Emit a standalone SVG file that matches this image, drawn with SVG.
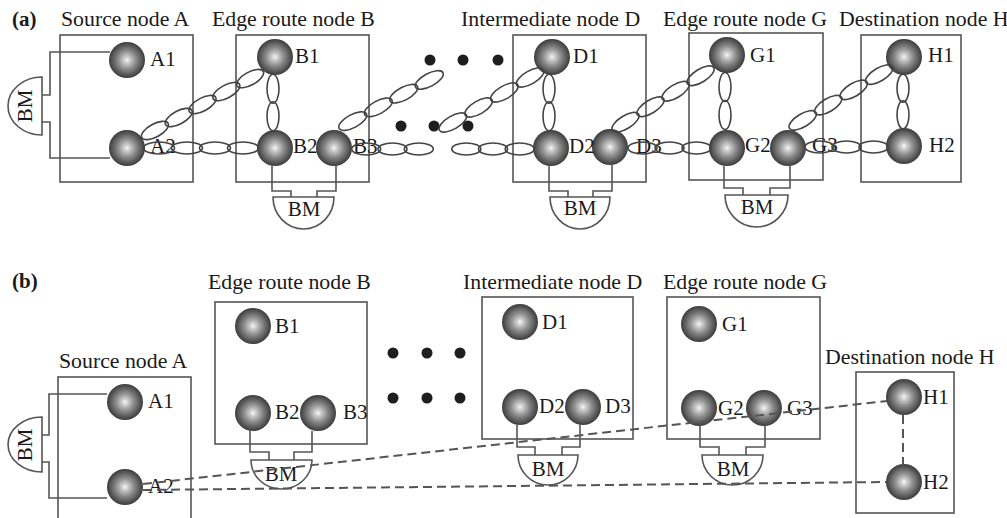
<svg xmlns="http://www.w3.org/2000/svg" width="1007" height="518" viewBox="0 0 1007 518">
<defs>
<radialGradient id="sph" cx="50%" cy="50%" r="50%">
<stop offset="0" stop-color="#f8f8f8"/>
<stop offset="0.15" stop-color="#d2d2d2"/>
<stop offset="0.5" stop-color="#8c8c8c"/>
<stop offset="0.85" stop-color="#535353"/>
<stop offset="1" stop-color="#3c3c3c"/>
</radialGradient>
<style>
text{font-family:"Liberation Serif","Times New Roman",serif;font-size:21px;fill:#1a1a1a}
.t{font-size:21.8px}
.bold{font-weight:bold}
.box{fill:none;stroke:#555;stroke-width:1.6}
.wire{fill:none;stroke:#555;stroke-width:1.6}
.bm{fill:none;stroke:#555;stroke-width:1.6}
.s{fill:url(#sph)}
.dot{fill:#1e1e1e}
.ch ellipse{fill:none;stroke:#444;stroke-width:1.6}
.dash{fill:none;stroke:#555;stroke-width:2;stroke-dasharray:9 5}
.mid{text-anchor:middle}
</style>
</defs>
<rect width="1007" height="518" fill="#fff"/>

<!-- Panel (a) -->
<text class="bold" x="12" y="26">(a)</text>

<g id="a-nodeA">
<text class="t" x="61" y="26">Source node A</text>
<rect class="box" x="60" y="35" width="133" height="147"/>
<path class="wire" d="M42,95 H50 V52 H110 M42,122 H50 V158 H110"/>
<path class="bm" d="M42,77 A34,29 0 0 0 42,135 Z"/>
<text class="mid" transform="translate(32,106) rotate(-90)">BM</text>
<circle class="s" cx="127" cy="60" r="18"/>
<circle class="s" cx="127" cy="148" r="18"/>
<text x="150" y="66">A1</text>
<text x="150" y="153">A2</text>
</g>

<g id="a-nodeB">
<text class="t" x="212" y="26">Edge route node B</text>
<rect class="box" x="236" y="35" width="133" height="147"/>
<path class="wire" d="M272,166 V191 H291 V197 M336,166 V191 H317 V197"/>
<path class="bm" d="M273,197 H334 A30.5,32 0 0 1 273,197 Z"/>
<text class="mid" x="304" y="216">BM</text>
<circle class="s" cx="275" cy="57" r="18"/>
<circle class="s" cx="275" cy="148" r="18"/>
<circle class="s" cx="334" cy="148" r="18"/>
<text x="295" y="63">B1</text>
<text x="293" y="153">B2</text>
<text x="353" y="153">B3</text>
</g>

<g id="a-dots">
<circle class="dot" cx="430" cy="60" r="5.5"/>
<circle class="dot" cx="463" cy="60" r="5.5"/>
<circle class="dot" cx="498" cy="60" r="5.5"/>
<circle class="dot" cx="401" cy="126" r="5.5"/>
<circle class="dot" cx="434" cy="126" r="5.5"/>
<circle class="dot" cx="468" cy="126" r="5.5"/>
</g>

<g id="a-nodeD">
<text class="t" x="461" y="26">Intermediate node D</text>
<rect class="box" x="513" y="35" width="133" height="147"/>
<path class="wire" d="M549,166 V191 H568 V197 M612,165 V191 H593 V197"/>
<path class="bm" d="M550,197 H610 A30,32 0 0 1 550,197 Z"/>
<text class="mid" x="580" y="215">BM</text>
<circle class="s" cx="552" cy="57" r="18"/>
<circle class="s" cx="551" cy="148" r="18"/>
<circle class="s" cx="610" cy="147" r="18"/>
<text x="573" y="63">D1</text>
<text x="569" y="153">D2</text>
<text x="636" y="153">D3</text>
</g>

<g id="a-nodeG">
<text class="t" x="663" y="26">Edge route node G</text>
<rect class="box" x="689" y="33" width="134" height="147"/>
<path class="wire" d="M724,166 V188 H743 V195 M790,166 V188 H770 V195"/>
<path class="bm" d="M725,195 H788 A31.5,32 0 0 1 725,195 Z"/>
<text class="mid" x="757" y="214">BM</text>
<circle class="s" cx="727" cy="55" r="18"/>
<circle class="s" cx="727" cy="148" r="18"/>
<circle class="s" cx="788" cy="148" r="18"/>
<text x="750" y="62">G1</text>
<text x="745" y="152">G2</text>
<text x="812" y="152">G3</text>
</g>

<g id="a-nodeH">
<text class="t" x="839" y="26">Destination node H</text>
<rect class="box" x="861" y="35" width="100" height="147"/>
<circle class="s" cx="904" cy="57" r="18"/>
<circle class="s" cx="904" cy="146" r="18"/>
<text x="928" y="62">H1</text>
<text x="929" y="152">H2</text>
</g>

<!-- Panel (b) -->
<text class="bold" x="12" y="288">(b)</text>

<g id="b-nodeA">
<text class="t" x="59" y="368">Source node A</text>
<rect class="box" x="58" y="377" width="133" height="160"/>
<path class="wire" d="M42,435 H49 V394 H107 M42,462 H49 V498 H107"/>
<path class="bm" d="M42,417 A34,27.5 0 0 0 42,472 Z"/>
<text class="mid" transform="translate(32,445) rotate(-90)">BM</text>
<circle class="s" cx="125" cy="402" r="18"/>
<circle class="s" cx="125" cy="487" r="18"/>
<text x="148" y="408">A1</text>
<text x="148" y="493">A2</text>
</g>

<g id="b-nodeB">
<text class="t" x="208" y="289">Edge route node B</text>
<rect class="box" x="215" y="302" width="152" height="142"/>
<path class="wire" d="M250,431 V452 H269 V460 M312,431 V452 H294 V460"/>
<path class="bm" d="M251,460 H312 A30.5,29 0 0 1 251,460 Z"/>
<text class="mid" x="281" y="481">BM</text>
<circle class="s" cx="253" cy="326" r="18"/>
<circle class="s" cx="253" cy="413" r="18"/>
<circle class="s" cx="318" cy="413" r="18"/>
<text x="275" y="333">B1</text>
<text x="275" y="419">B2</text>
<text x="343" y="419">B3</text>
</g>

<g id="b-dots">
<circle class="dot" cx="393" cy="353" r="5.5"/>
<circle class="dot" cx="427" cy="353" r="5.5"/>
<circle class="dot" cx="460" cy="353" r="5.5"/>
<circle class="dot" cx="393" cy="398" r="5.5"/>
<circle class="dot" cx="427" cy="398" r="5.5"/>
<circle class="dot" cx="460" cy="398" r="5.5"/>
</g>

<g id="b-nodeD">
<text class="t" x="463" y="289">Intermediate node D</text>
<rect class="box" x="482" y="297" width="151" height="142"/>
<path class="wire" d="M517,425 V447 H535 V455 M580,425 V447 H562 V455"/>
<path class="bm" d="M518,455 H578 A30,30 0 0 1 518,455 Z"/>
<text class="mid" x="548" y="476">BM</text>
<circle class="s" cx="520" cy="322" r="18"/>
<circle class="s" cx="520" cy="407" r="18"/>
<circle class="s" cx="583" cy="407" r="18"/>
<text x="542" y="329">D1</text>
<text x="539" y="413">D2</text>
<text x="605" y="413">D3</text>
</g>

<g id="b-nodeG">
<text class="t" x="663" y="289">Edge route node G</text>
<rect class="box" x="667" y="297" width="153" height="142"/>
<path class="wire" d="M700,426 V447 H719 V455 M765,426 V447 H746 V455"/>
<path class="bm" d="M702,455 H763 A30.5,30 0 0 1 702,455 Z"/>
<text class="mid" x="733" y="476">BM</text>
<circle class="s" cx="699" cy="324" r="18"/>
<circle class="s" cx="699" cy="408" r="18"/>
<circle class="s" cx="764" cy="408" r="18"/>
<text x="722" y="331">G1</text>
<text x="718" y="415">G2</text>
<text x="787" y="415">G3</text>
</g>

<g id="b-nodeH">
<text class="t" x="825" y="364">Destination node H</text>
<rect class="box" x="856" y="372" width="98" height="141"/>
<circle class="s" cx="904" cy="397" r="18"/>
<circle class="s" cx="904" cy="482" r="18"/>
<text x="923" y="404">H1</text>
<text x="923" y="489">H2</text>
</g>

<g id="connectors">
<g class="ch">
<g transform="translate(143,137) rotate(-28.6)">
<ellipse cx="13.6" cy="0" rx="15" ry="6.5"/><ellipse cx="40.7" cy="0" rx="15" ry="6.5"/><ellipse cx="67.8" cy="0" rx="15" ry="6.5"/><ellipse cx="94.9" cy="0" rx="15" ry="6.5"/><ellipse cx="122" cy="0" rx="15" ry="6.5"/>
</g>
<g transform="translate(145,148)">
<ellipse cx="14" cy="0" rx="15.5" ry="6"/><ellipse cx="42" cy="0" rx="15.5" ry="6"/><ellipse cx="70" cy="0" rx="15.5" ry="6"/><ellipse cx="98" cy="0" rx="15.5" ry="6"/>
</g>
<g transform="translate(273,75) rotate(90)">
<ellipse cx="13.75" cy="0" rx="14.5" ry="6"/><ellipse cx="41.25" cy="0" rx="14.5" ry="6"/>
</g>
<g transform="translate(340,128) rotate(-28.3)">
<ellipse cx="14.5" cy="0" rx="15.5" ry="6.5"/><ellipse cx="43.5" cy="0" rx="15.5" ry="6.5"/><ellipse cx="72.4" cy="0" rx="15.5" ry="6.5"/><ellipse cx="101.4" cy="0" rx="15.5" ry="6.5"/>
</g>
<g transform="translate(353,149)">
<ellipse cx="13.2" cy="0" rx="14.5" ry="6"/><ellipse cx="39.5" cy="0" rx="14.5" ry="6"/><ellipse cx="65.8" cy="0" rx="14.5" ry="6"/>
</g>
<g transform="translate(440,130) rotate(-30.2)">
<ellipse cx="14.9" cy="0" rx="15.5" ry="6.5"/><ellipse cx="44.7" cy="0" rx="15.5" ry="6.5"/><ellipse cx="74.5" cy="0" rx="15.5" ry="6.5"/><ellipse cx="104.3" cy="0" rx="15.5" ry="6.5"/>
</g>
<g transform="translate(453,149)">
<ellipse cx="13.3" cy="0" rx="14.5" ry="6"/><ellipse cx="40" cy="0" rx="14.5" ry="6"/><ellipse cx="66.7" cy="0" rx="14.5" ry="6"/>
</g>
<g transform="translate(549,75) rotate(90)">
<ellipse cx="13.75" cy="0" rx="14.5" ry="6"/><ellipse cx="41.25" cy="0" rx="14.5" ry="6"/>
</g>
<g transform="translate(613,130) rotate(-31.8)">
<ellipse cx="14.7" cy="0" rx="15.5" ry="6.5"/><ellipse cx="44.1" cy="0" rx="15.5" ry="6.5"/><ellipse cx="73.6" cy="0" rx="15.5" ry="6.5"/><ellipse cx="103" cy="0" rx="15.5" ry="6.5"/>
</g>
<g transform="translate(629,148)">
<ellipse cx="13.5" cy="0" rx="14.5" ry="6"/><ellipse cx="40.5" cy="0" rx="14.5" ry="6"/><ellipse cx="67.5" cy="0" rx="14.5" ry="6"/>
</g>
<g transform="translate(725,73) rotate(90)">
<ellipse cx="14" cy="0" rx="14.5" ry="6"/><ellipse cx="42" cy="0" rx="14.5" ry="6"/>
</g>
<g transform="translate(790,128) rotate(-30.9)">
<ellipse cx="14.85" cy="0" rx="15.5" ry="6.5"/><ellipse cx="44.55" cy="0" rx="15.5" ry="6.5"/><ellipse cx="74.25" cy="0" rx="15.5" ry="6.5"/><ellipse cx="103.95" cy="0" rx="15.5" ry="6.5"/>
</g>
<g transform="translate(806,147)">
<ellipse cx="13.5" cy="0" rx="14.5" ry="6"/><ellipse cx="40.5" cy="0" rx="14.5" ry="6"/><ellipse cx="67.5" cy="0" rx="14.5" ry="6"/>
</g>
<g transform="translate(903,75) rotate(90)">
<ellipse cx="13.25" cy="0" rx="14" ry="6"/><ellipse cx="39.75" cy="0" rx="14" ry="6"/>
</g>
</g>
<path class="dash" d="M143,484 L887,401"/>
<path class="dash" d="M143,490 L886,482"/>
<path class="dash" d="M903,415 V465"/>
</g>
</svg>
